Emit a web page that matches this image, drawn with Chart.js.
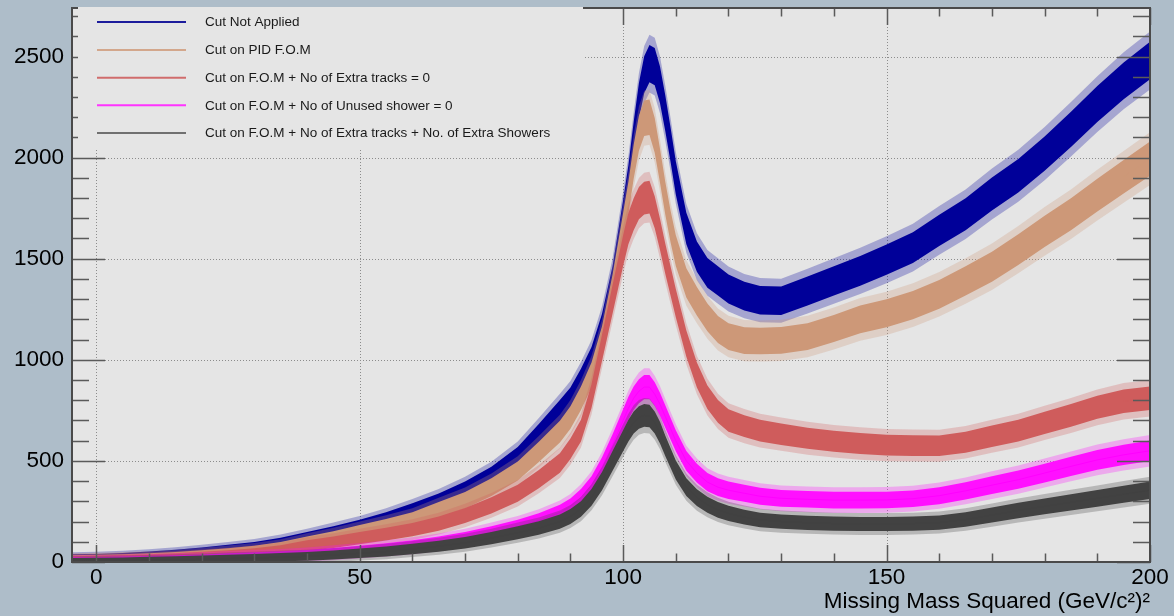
<!DOCTYPE html>
<html>
<head>
<meta charset="utf-8">
<script src="https://cdn.jsdelivr.net/npm/chart.js@4.4.1/dist/chart.umd.min.js"></script>
<style>
  html, body { margin: 0; padding: 0; background: #aebdc9; }
  #wrap { width: 1174px; height: 616px; }
</style>
</head>
<body>
<div id="wrap"><canvas id="mm2" width="1174" height="616"></canvas></div>
<script>
// Bin centres (GeV/c^2)^2 at which each histogram is sampled
const massSq = [-5, 0, 5, 10, 15, 20, 25, 30, 35, 40,
  45, 50, 55, 60, 65, 70, 75, 80, 84, 88,
  90, 92, 94, 96, 98, 100, 101, 102, 103, 104,
  105, 106, 107, 108, 109, 110, 112, 114, 116, 118,
  120, 123, 126, 130, 135, 140, 145, 150, 155, 160,
  165, 170, 175, 180, 185, 190, 195, 200];

// Entries per bin for each selection
const cutNotApplied = [18, 20, 24, 30, 38, 48, 60, 73, 92, 118,
  145, 175, 210, 252, 298, 355, 425, 520, 630, 745,
  805, 895, 1000, 1160, 1390, 1710, 1880, 2090, 2280, 2410,
  2465, 2450, 2360, 2220, 2065, 1900, 1650, 1510, 1430, 1390,
  1350, 1315, 1295, 1292, 1340, 1390, 1440, 1495, 1555, 1640,
  1720, 1820, 1910, 2020, 2140, 2265, 2380, 2480];

const cutPidFom = [14, 16, 19, 23, 28, 36, 45, 56, 72, 98,
  122, 150, 178, 210, 258, 305, 370, 450, 545, 645,
  715, 810, 925, 1100, 1350, 1650, 1800, 1980, 2120, 2195,
  2200, 2110, 1960, 1800, 1660, 1540, 1380, 1290, 1210, 1150,
  1115, 1095, 1093, 1096, 1115, 1155, 1200, 1230, 1270, 1324,
  1390, 1460, 1545, 1635, 1720, 1815, 1905, 1995];

const cutFomNoExtraTracks = [12, 13, 16, 19, 23, 29, 36, 45, 58, 80,
  98, 118, 138, 160, 190, 230, 280, 340, 410, 490,
  560, 650, 820, 1060, 1300, 1540, 1650, 1720, 1775, 1800,
  1805, 1730, 1620, 1500, 1390, 1280, 1080, 925, 815, 745,
  700, 672, 650, 632, 612, 597, 586, 578, 576, 575,
  592, 622, 650, 688, 725, 765, 795, 810];

const cutFomNoUnusedShower = [6, 7, 9, 11, 14, 18, 23, 27, 31, 37,
  46, 56, 67, 80, 97, 118, 145, 175, 205, 245,
  275, 320, 380, 470, 580, 700, 760, 810, 845, 865,
  865, 830, 780, 720, 660, 600, 500, 440, 395, 370,
  355, 340, 325, 315, 310, 306, 306, 307, 313, 328,
  352, 380, 407, 440, 473, 505, 530, 550];

const cutFomTracksShowers = [4, 5, 6, 8, 10, 13, 17, 20, 24, 28,
  35, 43, 52, 64, 78, 95, 118, 145, 168, 200,
  225, 262, 320, 400, 500, 600, 650, 690, 715, 725,
  722, 690, 640, 575, 515, 455, 370, 318, 283, 258,
  240, 222, 208, 200, 194, 190, 188, 188, 190, 195,
  210, 232, 255, 275, 295, 315, 335, 355];

const seriesLabels = [
  'Cut Not Applied',
  'Cut on PID F.O.M',
  'Cut on F.O.M + No of Extra tracks = 0',
  'Cut on F.O.M + No of Unused shower = 0',
  'Cut on F.O.M + No of Extra tracks + No. of Extra Showers'
];

const xTickValues = [0, 50, 100, 150, 200];
const yTickValues = [0, 500, 1000, 1500, 2000, 2500];

const FONT = "'Liberation Sans', Arial, Helvetica, sans-serif";

// line colour, band colour (error spread), legend sample colour
const styles = [
  { line: '#000099', band: '#000099', key: '#1c1c9c' },
  { line: '#cd9878', band: '#cd9878', key: '#d3a78c' },
  { line: '#cf5c5c', band: '#cf5c5c', key: '#d06c6c' },
  { line: '#ff00ff', band: '#ff10ff', key: '#ff33ff' },
  { line: '#414141', band: '#424242', key: '#707070' }
];

const seriesValues = [cutNotApplied, cutPidFom, cutFomNoExtraTracks, cutFomNoUnusedShower, cutFomTracksShowers];

const datasets = seriesValues.map((vals, k) => ({
  label: seriesLabels[k],
  data: massSq.map((x, i) => ({ x: x, y: vals[i] })),
  borderColor: styles[k].line,
  bandColor: styles[k].band,
  keyColor: styles[k].key,
  borderWidth: 1,
  pointRadius: 0,
  tension: 0,
  fill: false,
  order: 5 - k   // first selection drawn underneath
}));

// Statistical spread around each histogram: a solid core of +-1.6 sqrt(N)
// (plus pen width) and a faint outer fringe for the bin-to-bin spikes
const errorBand = {
  id: 'errorBand',
  beforeDatasetDraw(chart, args) {
    const { ctx, chartArea: a, scales: { y } } = chart;
    const ds = chart.data.datasets[args.index];
    const pts = args.meta.data;
    const pxPerUnit = Math.abs(y.getPixelForValue(0) - y.getPixelForValue(1));
    const core = ds.data.map(d => 2.6 + 1.6 * Math.sqrt(Math.max(d.y, 0)) * pxPerUnit);
    const band = (half) => {
      ctx.beginPath();
      pts.forEach((p, i) => {
        if (i === 0) ctx.moveTo(p.x, p.y - half[i]);
        else ctx.lineTo(p.x, p.y - half[i]);
      });
      for (let i = pts.length - 1; i >= 0; i--) ctx.lineTo(pts[i].x, pts[i].y + half[i]);
      ctx.closePath();
      ctx.fill();
    };
    ctx.save();
    ctx.beginPath();
    ctx.rect(a.left, a.top, a.width, a.height);
    ctx.clip();
    ctx.fillStyle = ds.bandColor;
    ctx.globalAlpha = 0.28;
    band(core.map(h => h * 1.55));
    ctx.globalAlpha = 1;
    band(core);
    ctx.restore();
  }
};

// Pad fill, dotted grid, inward ticks on all four sides, frame, legend box
const padFrame = {
  id: 'padFrame',
  beforeDraw(chart) {
    const { ctx, chartArea: a } = chart;
    ctx.save();
    ctx.fillStyle = '#aebdc9';
    ctx.fillRect(0, 0, chart.width, chart.height);
    ctx.fillStyle = '#e5e5e5';
    ctx.fillRect(a.left, a.top, a.width, a.height);
    ctx.restore();
  },
  beforeDatasetsDraw(chart) {
    const { ctx, chartArea: a, scales: { x, y } } = chart;
    ctx.save();
    ctx.strokeStyle = '#8c8c8c';
    ctx.lineWidth = 1;
    ctx.setLineDash([1, 2]);
    xTickValues.forEach(v => {
      const px = Math.round(x.getPixelForValue(v)) + 0.5;
      if (px > a.left + 1 && px < a.right - 1) {
        ctx.beginPath(); ctx.moveTo(px, a.bottom); ctx.lineTo(px, a.top); ctx.stroke();
      }
    });
    yTickValues.forEach(v => {
      const py = Math.round(y.getPixelForValue(v)) + 0.5;
      if (py > a.top + 1 && py < a.bottom - 1) {
        ctx.beginPath(); ctx.moveTo(a.left, py); ctx.lineTo(a.right, py); ctx.stroke();
      }
    });
    ctx.restore();
  },
  afterDatasetsDraw(chart) {
    const { ctx, chartArea: a, scales: { x, y } } = chart;
    ctx.save();
    ctx.strokeStyle = '#5a5a5a';
    ctx.lineWidth = 1.5;
    // y ticks: minor every 100, major every 500
    for (let v = 0; v <= y.max; v += 100) {
      const py = Math.round(y.getPixelForValue(v)) + 0.5;
      const len = v % 500 === 0 ? 33 : 17;
      ctx.beginPath();
      ctx.moveTo(a.left, py); ctx.lineTo(a.left + len, py);
      ctx.moveTo(a.right, py); ctx.lineTo(a.right - len, py);
      ctx.stroke();
    }
    // x ticks: minor every 10, major every 50
    for (let v = 0; v <= x.max; v += 10) {
      const px = Math.round(x.getPixelForValue(v)) + 0.5;
      const len = v % 50 === 0 ? 17 : 8.5;
      ctx.beginPath();
      ctx.moveTo(px, a.bottom); ctx.lineTo(px, a.bottom - len);
      ctx.moveTo(px, a.top); ctx.lineTo(px, a.top + len);
      ctx.stroke();
    }
    ctx.strokeStyle = '#4a4a4a';
    ctx.lineWidth = 2;
    ctx.strokeRect(a.left, a.top, a.width, a.height);
    ctx.restore();
  },
  afterDraw(chart) {
    const { ctx, chartArea: a } = chart;
    ctx.save();
    ctx.fillStyle = '#e5e5e5';
    ctx.fillRect(a.left + 6, a.top - 1, 505, 141);
    const rows = [22, 50, 77.7, 105.3, 133];
    chart.data.datasets.forEach((ds, i) => {
      ctx.strokeStyle = ds.keyColor;
      ctx.lineWidth = 2;
      ctx.beginPath();
      ctx.moveTo(97, rows[i]); ctx.lineTo(186, rows[i]);
      ctx.stroke();
      ctx.fillStyle = '#1a1a1a';
      ctx.font = '13.5px ' + FONT;
      ctx.textAlign = 'left';
      ctx.textBaseline = 'middle';
      ctx.fillText(ds.label, 205, rows[i] + 0.5);
    });
    ctx.restore();
  }
};

new Chart(document.getElementById('mm2'), {
  type: 'line',
  data: { datasets: datasets },
  plugins: [padFrame, errorBand],
  options: {
    responsive: false,
    animation: false,
    devicePixelRatio: 1,
    layout: { padding: { left: 0, right: 24, top: 8, bottom: 0 } },
    plugins: { legend: { display: false }, tooltip: { enabled: false } },
    scales: {
      x: {
        type: 'linear',
        min: -4.6,
        max: 200,
        grid: { display: false, drawTicks: false },
        border: { display: false },
        afterBuildTicks: s => { s.ticks = xTickValues.map(v => ({ value: v })); },
        afterFit: s => { s.height = 54; s.paddingLeft = 0; s.paddingRight = 0; },
        ticks: {
          font: { family: FONT, size: 22.5 },
          color: '#000',
          padding: 2,
          maxRotation: 0,
          autoSkip: false,
          callback: v => String(v)
        },
        title: {
          display: true,
          text: 'Missing Mass Squared (GeV/c²)²',
          align: 'end',
          color: '#000',
          font: { family: FONT, size: 22.5 },
          padding: { top: 0, bottom: 1 }
        }
      },
      y: {
        type: 'linear',
        min: 0,
        max: 2740,
        grid: { display: false, drawTicks: false },
        border: { display: false },
        afterBuildTicks: s => { s.ticks = yTickValues.map(v => ({ value: v })); },
        afterFit: s => { s.width = 72; s.paddingTop = 0; s.paddingBottom = 0; },
        ticks: {
          font: { family: FONT, size: 22.5 },
          color: '#000',
          padding: 8,
          autoSkip: false,
          callback: v => String(v)
        }
      }
    }
  }
});
</script>
</body>
</html>
